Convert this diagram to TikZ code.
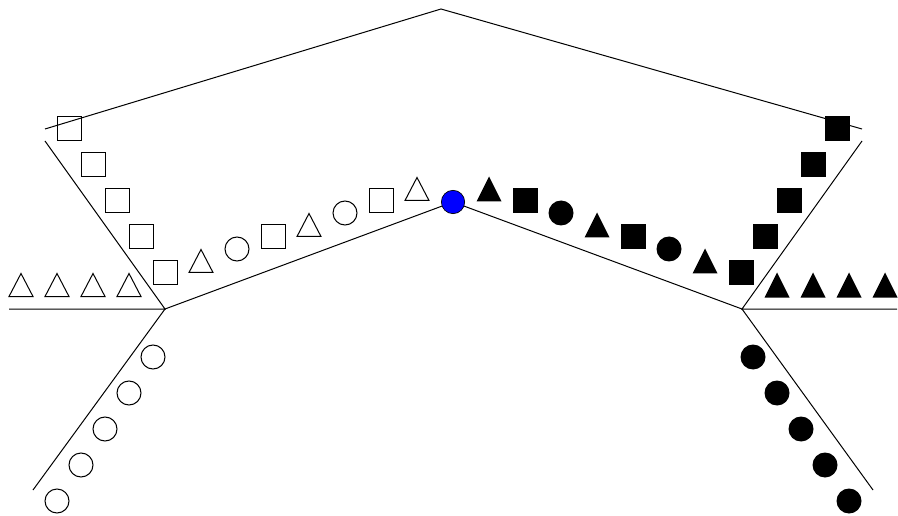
\documentclass[tikz,border=0pt]{standalone}
\begin{document}
\begin{tikzpicture}[x=0.75pt,y=-0.75pt,line width=0.75pt,
  osq/.pic={\draw (-12,-12) rectangle (12,12);},
  fsq/.pic={\fill (-12.5,-12.5) rectangle (12.5,12.5);},
  otri/.pic={\draw (-12,11.5) -- (0,-11.5) -- (12,11.5) -- cycle;},
  ftri/.pic={\fill (-12.5,12.5) -- (0,-12.5) -- (12.5,12.5) -- cycle;},
  ocirc/.pic={\draw (0,0) circle[radius=12];},
  fcirc/.pic={\fill (0,0) circle[radius=12.5];},
  hub/.style={circle,draw,fill=blue,minimum size=17.5pt,inner sep=0pt,line width=0.5pt}]
\useasboundingbox (0,0) rectangle (898,516);
% frame lines
\coordinate (T) at (441,9);
\coordinate (TL) at (45,129);
\coordinate (TR) at (862,129);
\coordinate (L) at (165,309);
\coordinate (R) at (742,309);
\coordinate (C) at (453,202);
\coordinate (LU) at (45,141);
\coordinate (LH) at (9,309);
\coordinate (LD) at (33,490);
\coordinate (RU) at (862,141);
\coordinate (RH) at (897,309);
\coordinate (RD) at (873,490);
\draw (TL) -- (T) -- (TR);
\draw (LU) -- (L) -- (LH);
\draw (L) -- (LD);
\draw (L) -- (C) -- (R);
\draw (RU) -- (R) -- (RH);
\draw (R) -- (RD);
\node[hub] (blue) at (C) {};
% left squares
\foreach \p in {(69,129),(93,165),(117,201),(141,237),(165,273),(273,237),(381,201)} \pic at \p {osq};
\foreach \p in {(21,285),(57,285),(93,285),(129,285),(201,261),(309,225),(417,189)} \pic at \p {otri};
\foreach \p in {(237,249),(345,213),(153,357),(129,393),(105,429),(81,465),(57,501)} \pic at \p {ocirc};
% right side
\foreach \p in {(837,129),(813,165),(789,201),(765,237),(741,273),(633,237),(525,201)} \pic at \p {fsq};
\foreach \p in {(777,285),(813,285),(849,285),(885,285),(705,261),(597,225),(489,189)} \pic at \p {ftri};
\foreach \p in {(669,249),(561,213),(753,357),(777,393),(801,429),(825,465),(849,501)} \pic at \p {fcirc};
\end{tikzpicture}
\end{document}
